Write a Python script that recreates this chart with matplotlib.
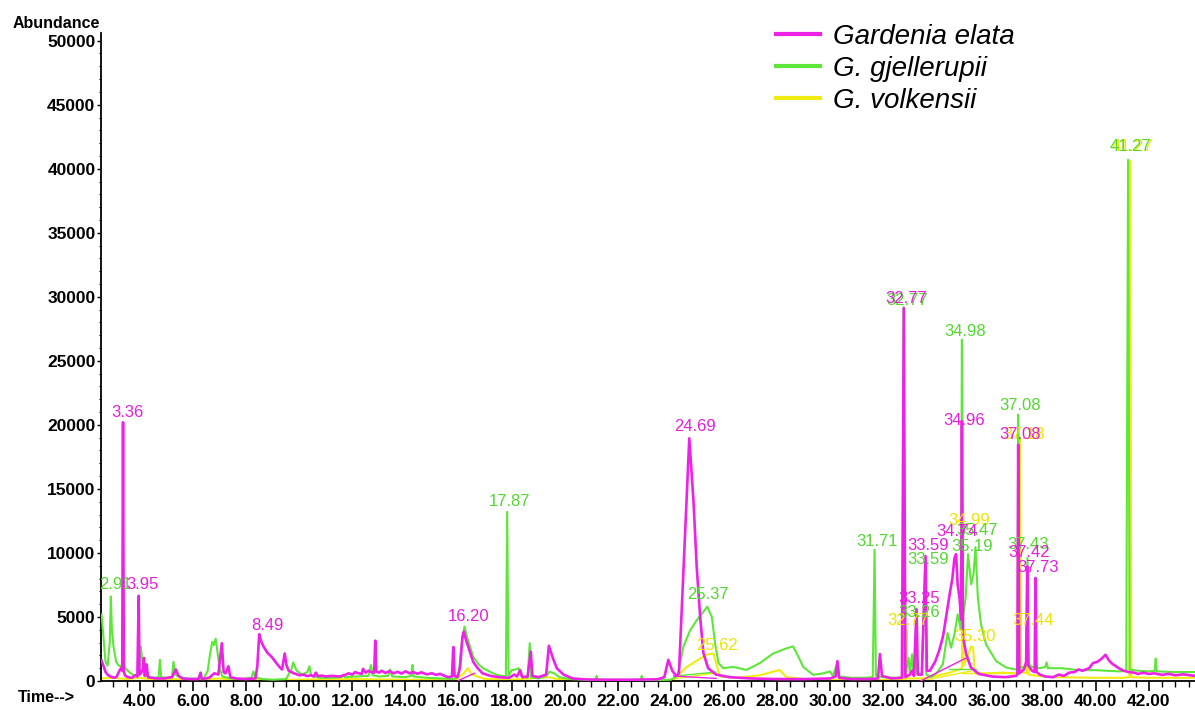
import matplotlib
matplotlib.use("Agg")
import matplotlib.pyplot as plt
from matplotlib.ticker import MultipleLocator, FuncFormatter

plt.rcParams['font.family'] = ['Liberation Sans', 'DejaVu Sans']

# ---------------- data (retention time [min], abundance) ----------------
elata_t = [2.55, 2.62, 2.70, 2.80, 2.95, 3.05, 3.12, 3.20, 3.28, 3.33, 3.36, 3.39, 3.45, 3.55, 3.70,
           3.82, 3.90, 3.95, 3.98, 4.03, 4.10, 4.15, 4.18, 4.25, 4.30, 4.45, 4.60, 4.90, 5.20, 5.35,
           5.45, 5.60, 5.90, 6.20, 6.28, 6.33, 6.60, 6.80, 6.95, 7.08, 7.15, 7.22, 7.33, 7.40, 7.60,
           8.00, 8.35, 8.42, 8.49, 8.56, 8.65, 8.80, 8.95, 9.10, 9.25, 9.35, 9.45, 9.52, 9.60, 9.80,
           10.00, 10.15, 10.30, 10.45, 10.55, 10.62, 10.70, 10.85, 11.00, 11.20, 11.50, 11.70, 11.85,
           12.00, 12.10, 12.20, 12.35, 12.40, 12.50, 12.60, 12.70, 12.82, 12.86, 12.90, 13.00, 13.10,
           13.25, 13.40, 13.55, 13.70, 13.85, 14.00, 14.15, 14.30, 14.45, 14.60, 14.80, 15.00, 15.15,
           15.30, 15.45, 15.60, 15.75, 15.80, 15.85, 15.95, 16.05, 16.15, 16.20, 16.28, 16.40, 16.55,
           16.70, 16.90, 17.20, 17.50, 17.90, 18.10, 18.20, 18.32, 18.40, 18.60, 18.72, 18.78, 19.00,
           19.30, 19.40, 19.55, 19.70, 19.95, 20.30, 20.80, 21.50, 22.50, 23.50, 23.75, 23.90, 24.05,
           24.20, 24.30, 24.69, 24.85, 24.97, 25.10, 25.22, 25.40, 25.70, 26.20, 27.00, 28.00, 29.00,
           30.00, 30.20, 30.27, 30.33, 30.80, 31.50, 31.80, 31.87, 31.95, 32.30, 32.70, 32.77, 32.83,
           33.00, 33.08, 33.15, 33.25, 33.30, 33.45, 33.59, 33.64, 33.75, 33.95, 34.10, 34.25, 34.36,
           34.50, 34.60, 34.68, 34.74, 34.80, 34.87, 34.93, 34.96, 35.00, 35.12, 35.30, 35.60, 36.10,
           36.60, 37.00, 37.05, 37.08, 37.12, 37.30, 37.38, 37.42, 37.46, 37.60, 37.70, 37.73, 37.77,
           37.90, 38.10, 38.40, 38.60, 38.80, 39.00, 39.20, 39.35, 39.50, 39.75, 39.90, 40.06, 40.20,
           40.37, 40.50, 40.62, 40.87, 41.05, 41.25, 41.45, 41.60, 41.80, 42.00, 42.20, 42.50, 42.75,
           43.00, 43.30, 43.74]
elata_a = [1600, 1200, 700, 450, 300, 250, 350, 700, 1000, 800, 20200, 700, 400, 300, 250,
           450, 350, 6650, 500, 600, 900, 1800, 400, 1300, 300, 250, 200, 200, 300, 900,
           400, 200, 150, 150, 650, 150, 250, 600, 500, 2950, 700, 600, 1150, 300, 200,
           150, 200, 1200, 3650, 3100, 2700, 2200, 1900, 1500, 1100, 900, 2150, 1200, 800, 600,
           450, 500, 380, 450, 350, 650, 380, 420, 350, 400, 350, 450, 600,
           500, 700, 620, 550, 950, 650, 800, 700, 650, 3150, 750, 650, 800,
           620, 780, 600, 720, 580, 760, 600, 700, 560, 680, 520, 600, 480,
           560, 420, 300, 350, 2650, 400, 300, 1000, 3500, 3850, 3200, 2450, 1500,
           1050, 600, 400, 300, 250, 500, 350, 850, 300, 350, 2300, 400, 300,
           500, 2750, 1800, 1000, 500, 200, 120, 100, 100, 130, 300, 1650, 800,
           400, 600, 18950, 14000, 8900, 5000, 2200, 1000, 500, 300, 200, 150, 150,
           200, 350, 1550, 250, 150, 150, 200, 2100, 400, 200, 250, 29100, 300,
           500, 800, 400, 5600, 500, 500, 9750, 800, 800, 1500, 2350, 3500, 4950,
           6800, 8000, 9600, 9900, 7500, 6500, 4800, 20300, 3500, 2100, 1050, 550, 350,
           300, 400, 500, 18450, 600, 900, 1500, 8950, 1200, 800, 700, 8050, 700,
           500, 350, 300, 500, 400, 650, 700, 900, 800, 1000, 1400, 1500, 1700,
           2050, 1600, 1350, 1000, 800, 700, 650, 550, 650, 550, 600, 480, 560,
           450, 520, 400]

gjel_t = [2.55, 2.62, 2.70, 2.78, 2.86, 2.90, 2.94, 3.00, 3.10, 3.20, 3.30, 3.40, 3.50, 3.62, 3.80,
          3.95, 4.03, 4.08, 4.15, 4.30, 4.50, 4.70, 4.75, 4.80, 5.00, 5.20, 5.26, 5.32, 5.50, 5.70,
          6.00, 6.40, 6.55, 6.64, 6.72, 6.78, 6.85, 6.92, 7.00, 7.10, 7.40, 7.80, 8.20, 8.27, 8.33,
          8.60, 9.00, 9.50, 9.70, 9.77, 9.90, 10.10, 10.30, 10.38, 10.45, 10.80, 11.20, 11.60, 11.66,
          11.72, 12.20, 12.60, 12.70, 12.76, 13.00, 13.35, 13.42, 13.50, 14.00, 14.22, 14.26, 14.30,
          14.80, 15.30, 15.80, 16.00, 16.12, 16.22, 16.35, 16.55, 16.75, 16.93, 17.20, 17.45, 17.78,
          17.83, 17.88, 18.00, 18.15, 18.26, 18.35, 18.60, 18.68, 18.73, 19.00, 19.30, 19.42, 19.60,
          19.80, 20.20, 20.80, 21.15, 21.20, 21.25, 22.20, 22.85, 22.90, 22.95, 23.60, 24.00, 24.25,
          24.47, 24.72, 24.97, 25.22, 25.37, 25.54, 25.66, 25.79, 25.97, 26.35, 26.85, 27.35, 27.85,
          28.35, 28.60, 28.80, 28.98, 29.36, 29.74, 29.99, 30.10, 30.27, 30.35, 30.80, 31.30, 31.60,
          31.67, 31.72, 32.00, 32.50, 32.74, 32.77, 32.81, 32.95, 33.00, 33.08, 33.13, 33.20, 33.24,
          33.28, 33.45, 33.57, 33.62, 33.80, 34.00, 34.24, 34.42, 34.55, 34.68, 34.80, 34.92, 34.96,
          35.00, 35.10, 35.19, 35.26, 35.31, 35.40, 35.47, 35.56, 35.68, 35.87, 36.25, 36.63, 37.00,
          37.05, 37.08, 37.12, 37.30, 37.38, 37.43, 37.48, 37.60, 37.90, 38.10, 38.15, 38.20, 38.72,
          39.35, 39.98, 40.40, 40.90, 41.15, 41.22, 41.28, 41.60, 42.00, 42.22, 42.26, 42.30, 43.00,
          43.74]
gjel_a = [5200, 3500, 1500, 1200, 3000, 6600, 4000, 2700, 1500, 1200, 1150, 1100, 900, 650, 400,
          500, 2700, 1700, 600, 300, 250, 300, 1650, 300, 250, 300, 1500, 500, 300, 200,
          180, 200, 800, 2150, 3050, 2800, 3300, 2200, 1000, 350, 200, 150, 250, 750, 300,
          150, 100, 150, 900, 1450, 800, 500, 700, 1150, 400, 250, 250, 300, 500,
          300, 350, 400, 1250, 450, 350, 400, 900, 350, 300, 400, 1250, 350,
          250, 200, 150, 300, 3000, 4250, 3200, 1900, 1300, 990, 700, 470, 350,
          13200, 400, 850, 900, 1000, 400, 250, 2950, 300, 200, 400, 730, 600,
          300, 150, 100, 100, 400, 100, 80, 80, 400, 80, 80, 100, 400,
          2700, 3950, 4750, 5400, 5800, 5000, 2950, 1400, 1000, 1100, 870, 1400, 2150,
          2550, 2700, 1900, 1100, 480, 600, 750, 400, 1450, 350, 250, 250, 300,
          10250, 400, 300, 250, 300, 29200, 400, 1800, 600, 2080, 600, 500, 5600,
          600, 500, 8700, 500, 300, 600, 1300, 3750, 2600, 3650, 5200, 4000, 26650,
          5000, 6500, 9900, 8500, 7550, 8400, 10450, 6500, 4400, 2850, 1550, 1050, 900,
          1000, 20800, 1000, 1100, 1200, 9600, 1300, 1100, 1000, 1100, 1450, 1000, 1000,
          850, 850, 800, 750, 800, 40700, 900, 800, 750, 800, 1750, 750, 700,
          700]

volk_t = [2.55, 3.00, 3.50, 4.00, 4.50, 5.30, 6.00, 7.00, 7.50, 9.00, 12.00, 14.00, 15.90, 16.20,
          16.35, 16.50, 17.00, 18.00, 19.40, 19.70, 20.50, 24.10, 24.60, 25.10, 25.35, 25.60, 25.70,
          25.85, 26.50, 27.35, 27.98, 28.10, 28.35, 29.00, 30.00, 31.00, 32.50, 32.84, 32.87, 32.90,
          33.50, 34.00, 34.50, 34.85, 34.96, 34.99, 35.02, 35.20, 35.30, 35.38, 35.45, 35.90, 36.50,
          37.00, 37.12, 37.15, 37.19, 37.40, 37.44, 37.48, 37.80, 38.40, 40.00, 41.00, 41.27, 41.30,
          41.34, 42.00, 43.74]
volk_a = [200, 250, 150, 250, 100, 150, 80, 200, 80, 80, 150, 100, 100, 600,
          1000, 500, 150, 100, 300, 150, 80, 80, 1100, 1750, 2050, 2150, 1400,
          350, 250, 450, 800, 850, 300, 150, 100, 80, 100, 150, 4000, 200,
          200, 400, 650, 900, 1000, 11400, 1200, 2000, 2700, 2600, 600, 600, 650,
          600, 700, 19000, 700, 600, 3650, 500, 400, 300, 250, 250, 300, 40600,
          300, 250, 250]

# integration baselines drawn by the data system (start/end points of each line)
elata_base = [((24.10, 390), (25.70, 200)), ((33.40, 0), (35.12, 1800)), ((16.00, 50), (16.60, 600))]
gjel_base = [((24.20, 400), (25.70, 700)), ((34.49, 900), (35.50, 900))]
volk_base = [((24.20, 200), (25.60, 600)), ((33.40, 0), (35.30, 780)), ((35.00, 650), (37.00, 650))]

# peak labels: (text, time of label centre, abundance of label centre)
elata_labels = [("3.36", 3.54, 20930), ("3.95", 4.11, 7500), ("8.49", 8.80, 4370),
                ("16.20", 16.39, 5000), ("24.69", 24.90, 19840), ("32.77", 32.87, 29900),
                ("33.25", 33.35, 6480), ("33.59", 33.68, 10570), ("34.74", 34.77, 11640),
                ("34.96", 35.05, 20380), ("37.08", 37.15, 19210), ("37.42", 37.49, 10000),
                ("37.73", 37.82, 8900)]
gjel_labels = [("2.91", 3.06, 7500), ("17.87", 17.90, 13980), ("25.37", 25.40, 6720),
               ("31.71", 31.75, 10880), ("32.77", 32.89, 29750), ("33.26", 33.35, 5310),
               ("33.59", 33.68, 9450), ("35.19", 35.34, 10490), ("35.47", 35.53, 11740),
               ("34.98", 35.07, 27280), ("37.08", 37.15, 21550), ("37.43", 37.45, 10620),
               ("41.27", 41.32, 41730)]
volk_labels = [("25.62", 25.73, 2810), ("32.77", 32.93, 4760), ("34.99", 35.22, 12570),
               ("35.30", 35.47, 3460), ("37.18", 37.30, 19210), ("37.44", 37.65, 4760),
               ("41.27", 41.40, 41730)]

series_names = ["Gardenia elata", "G. gjellerupii", "G. volkensii"]
y_ticks = [0, 5000, 10000, 15000, 20000, 25000, 30000, 35000, 40000, 45000, 50000]
x_ticks = [4, 6, 8, 10, 12, 14, 16, 18, 20, 22, 24, 26, 28, 30, 32, 34, 36, 38, 40, 42]

# ---------------- styling ----------------
C_MAG = "#EE22E6"
C_GRN = "#5EE63A"
C_YEL = "#F0EC10"
T_MAG = "#E41EDC"
T_GRN = "#52D830"
T_YEL = "#EEE400"

W, H = 1195, 710
fig = plt.figure(figsize=(W / 100, H / 100), dpi=100)
ax = fig.add_axes([101 / W, (H - 681) / H, (W - 101) / W, (681 - 33) / H])

ax.plot(volk_t, volk_a, color=C_YEL, lw=1.5, zorder=2, label=series_names[2])
ax.plot(gjel_t, gjel_a, color=C_GRN, lw=1.5, zorder=3, label=series_names[1])
ax.plot(elata_t, elata_a, color=C_MAG, lw=1.9, zorder=4, label=series_names[0])

for segs, c, z in ((volk_base, C_YEL, 2), (gjel_base, C_GRN, 3), (elata_base, C_MAG, 4)):
    for (x0, y0), (x1, y1) in segs:
        ax.plot([x0, x1], [y0, y1], color=c, lw=1.0, zorder=z)

for labs, c, z in ((volk_labels, T_YEL, 5), (gjel_labels, T_GRN, 6), (elata_labels, T_MAG, 7)):
    for txt, tx, ty in labs:
        ax.text(tx, ty, txt, color=c, fontsize=12, ha="center", va="center",
                zorder=z, clip_on=True)

ax.set_xlim(2.53, 43.74)
ax.set_ylim(0, 50600)

for s in ("top", "right"):
    ax.spines[s].set_visible(False)
ax.spines["left"].set_linewidth(1.3)
ax.spines["bottom"].set_linewidth(1.3)

ax.set_yticks(y_ticks)
ax.yaxis.set_major_formatter(FuncFormatter(lambda v, p: f"{int(v)}"))
ax.yaxis.set_minor_locator(MultipleLocator(1000))
ax.set_xticks(x_ticks)
ax.xaxis.set_major_formatter(FuncFormatter(lambda v, p: f"{v:.2f}"))
ax.xaxis.set_minor_locator(MultipleLocator(0.5))

ax.tick_params(axis="y", which="major", direction="out", length=3, width=1.0, pad=1,
               labelsize=12.5)
ax.tick_params(axis="y", which="minor", direction="out", length=1.5, width=0.8)
ax.tick_params(axis="x", which="major", direction="out", length=7, width=1.2, pad=2,
               labelsize=12.5)
ax.tick_params(axis="x", which="minor", direction="out", length=4.5, width=1.0)
for lab in ax.get_yticklabels() + ax.get_xticklabels():
    lab.set_fontweight("bold")

fig.text(100 / W, 1 - 23 / H, "Abundance", ha="right", va="center", fontsize=11.5,
         fontweight="bold")
fig.text(18 / W, 1 - 697 / H, "Time-->", ha="left", va="center", fontsize=11.5,
         fontweight="bold")

handles, labels = ax.get_legend_handles_labels()
order = [2, 1, 0]
leg = ax.legend([handles[i] for i in order], [labels[i] for i in order],
                loc="upper left", bbox_to_anchor=(776 / W, 1 - 24 / H),
                bbox_transform=fig.transFigure, frameon=False,
                prop={"style": "italic", "size": 20}, handlelength=1.6,
                handletextpad=0.45, labelspacing=0.22, borderpad=0, borderaxespad=0)
for lh in leg.get_lines():
    lh.set_linewidth(3)

fig.savefig("out.png", dpi=100)
